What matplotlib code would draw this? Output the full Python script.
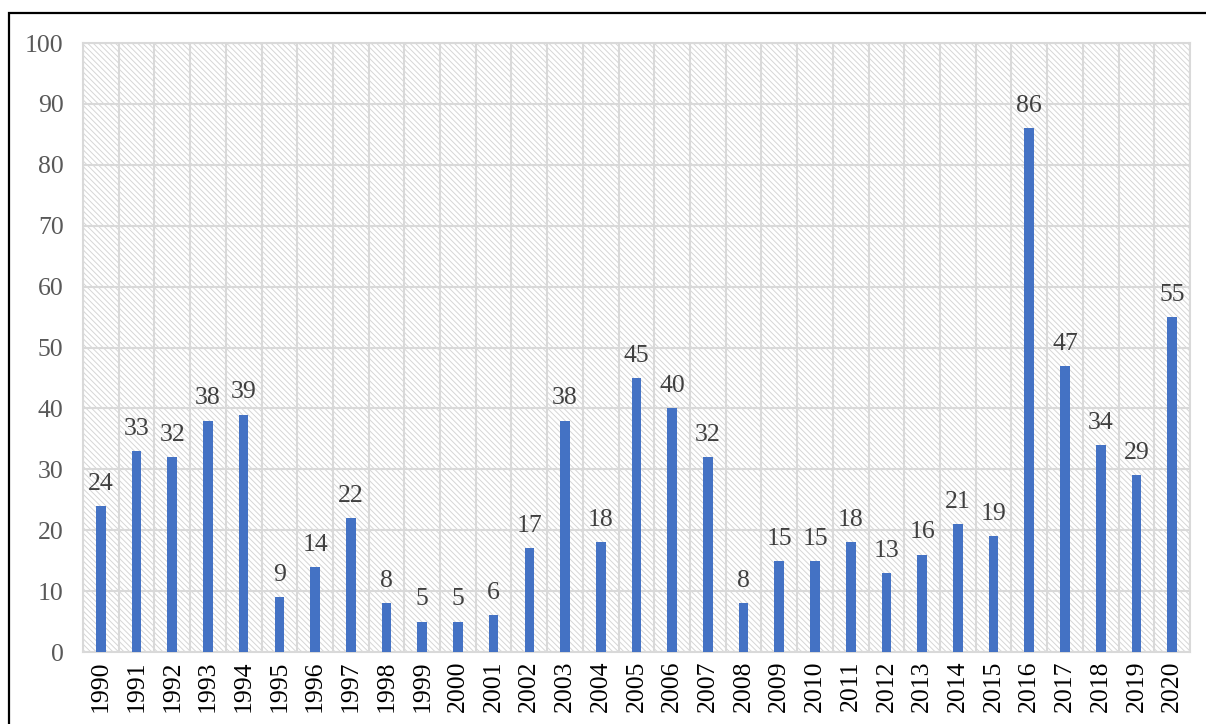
import matplotlib.pyplot as plt
from matplotlib.patches import Rectangle

years = list(range(1990, 2021))
counts = [24, 33, 32, 38, 39, 9, 14, 22, 8, 5, 5, 6, 17, 38, 18, 45, 40, 32,
          8, 15, 15, 18, 13, 16, 21, 19, 86, 47, 34, 29, 55]
yticks = list(range(0, 101, 10))

plt.rcParams['font.family'] = ['Liberation Serif', 'DejaVu Serif']
plt.rcParams['hatch.linewidth'] = 0.7

fig = plt.figure(figsize=(12.06, 7.24), dpi=100)
ax = fig.add_axes([0.0688, 0.0994, 0.9179, 0.8412])

n = len(years)
ax.set_xlim(-0.5, n - 0.5)
ax.set_ylim(0, 100)

# hatched plot background
ax.add_patch(Rectangle((0, 0), 1, 1, transform=ax.transAxes, facecolor='white',
                       edgecolor='#d6d6d6', linewidth=0, hatch='\\' * 6, zorder=0))

# grid: one vertical line per category boundary, horizontal every 10
for x in range(n + 1):
    ax.axvline(x - 0.5, color='#d9d9d9', lw=1.5, zorder=1)
for y in yticks:
    ax.axhline(y, color='#d9d9d9', lw=1.5, zorder=1)

xs = list(range(n))
ax.bar(xs, counts, width=0.27, color='#4472C4', zorder=3)
for x, v in zip(xs, counts):
    ax.annotate(str(v), (x, v), xytext=(0, 8), textcoords='offset points',
                ha='center', va='bottom', fontsize=18.5, color='#404040')

ax.set_xticks(xs)
ax.set_xticklabels([str(y) for y in years], rotation=90, fontsize=18.5, color='black')
ax.set_yticks(yticks)
ax.set_yticklabels([str(y) for y in yticks], fontsize=18.5, color='#595959')
ax.tick_params(length=0)
ax.tick_params(axis='y', pad=14)
ax.tick_params(axis='x', pad=6)
for s in ax.spines.values():
    s.set_color('#d9d9d9')
    s.set_linewidth(1.5)

# outer frame
fig.patches.append(Rectangle((9 / 1206, -0.1), 1.2, (724 - 13) / 724 + 0.1,
                             transform=fig.transFigure, fill=False,
                             edgecolor='black', lw=1.6))

fig.savefig('out.png', dpi=100)
